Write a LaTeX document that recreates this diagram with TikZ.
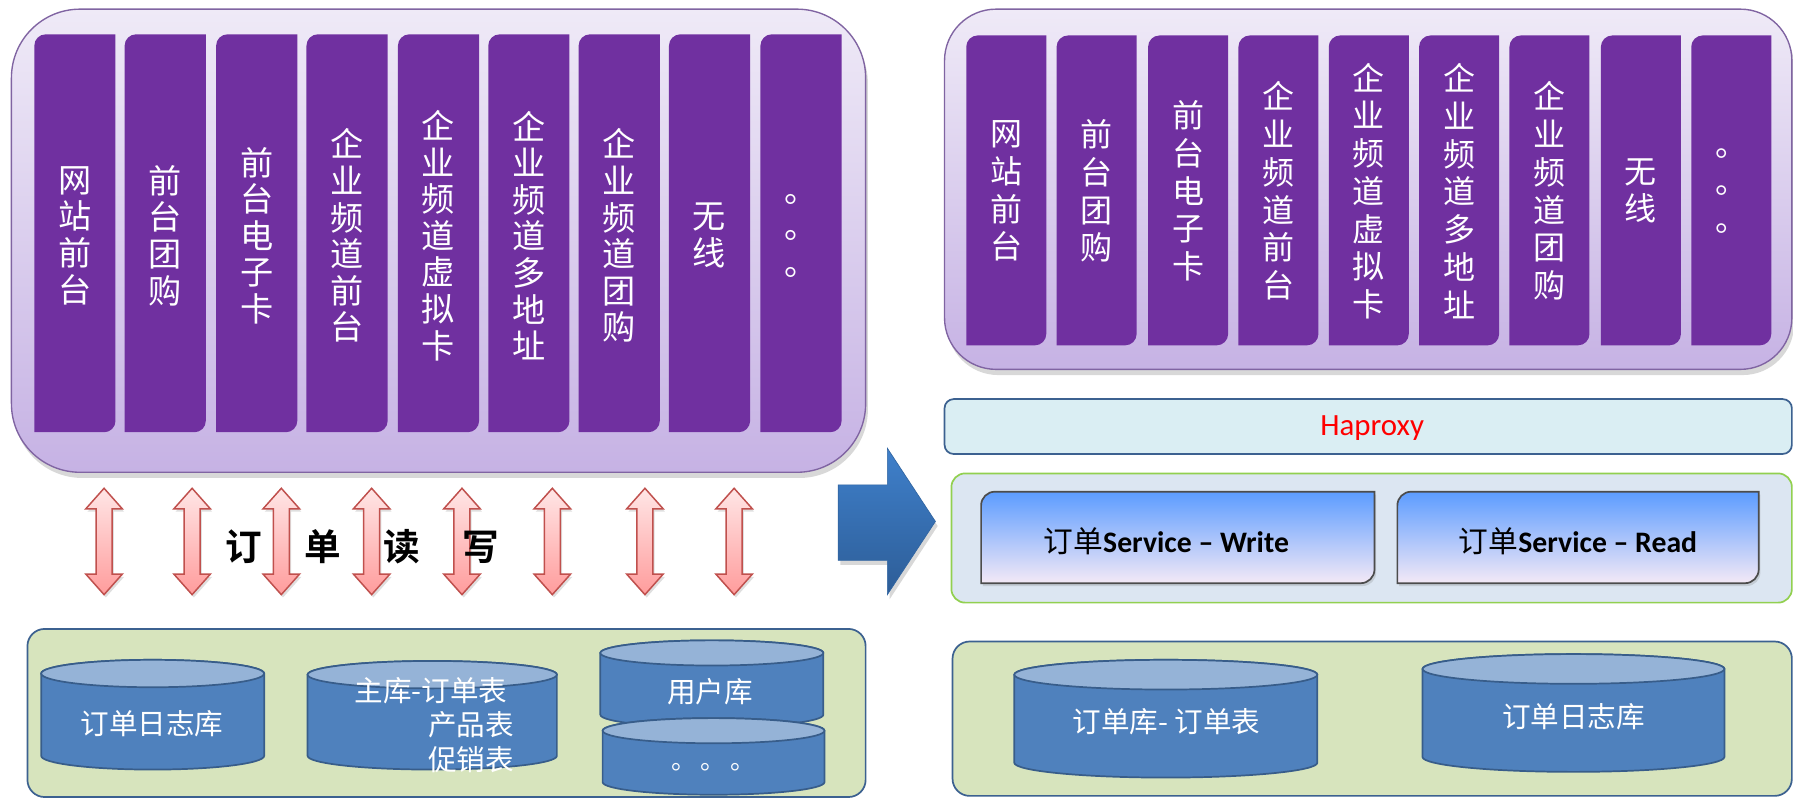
\documentclass[tikz,border=0pt]{standalone}
\usepackage{fontspec}
\setmainfont{Carlito}
\newfontfamily\cjk{Noto Sans CJK SC}
\newfontfamily\cjkbold{Noto Sans CJK SC Bold}
\usetikzlibrary{shadows}
\definecolor{colpurple}{HTML}{7030A0}
\definecolor{panelborder}{HTML}{8064A2}
\definecolor{paneltop}{HTML}{EFEAF7}
\definecolor{panelbot}{HTML}{C6B2E4}
\definecolor{arrtop}{HTML}{FFE6E6}
\definecolor{arrbot}{HTML}{FF9C9C}
\definecolor{arrborder}{HTML}{C0504D}
\definecolor{bigtop}{HTML}{3F80CB}
\definecolor{bigbot}{HTML}{2D5D97}
\definecolor{hafill}{HTML}{DAEEF3}
\definecolor{boxborder}{HTML}{3C6190}
\definecolor{svcbg}{HTML}{DCE6F2}
\definecolor{greenline}{HTML}{92D050}
\definecolor{svctop}{HTML}{5C9CFF}
\definecolor{svcmid}{HTML}{90C3FF}
\definecolor{svcbot}{HTML}{F4E9F6}
\definecolor{dbfill}{HTML}{D7E4BD}
\definecolor{cylbodyc}{HTML}{4F81BD}
\definecolor{cyltopc}{HTML}{95B3D7}
\definecolor{cylline}{HTML}{385D8A}
\tikzset{
  panelbox/.style={top color=paneltop, bottom color=panelbot, draw=panelborder, line width=1.2pt,
    drop shadow={shadow xshift=2pt, shadow yshift=-5pt, opacity=0.3}},
  colbox/.style={fill=colpurple},
  coltext/.style={text=white, align=center, inner sep=0pt, font=\cjk\fontsize{29}{32}\selectfont},
  coltextr/.style={text=white, align=center, inner sep=0pt, font=\cjk\fontsize{28}{33}\selectfont},
  rarrow/.style={top color=arrtop, bottom color=arrbot, draw=arrborder, line width=1.3pt, line join=miter,
    drop shadow={shadow xshift=1.5pt, shadow yshift=-2.5pt, opacity=0.25}},
  bigarrow/.style={top color=bigtop, bottom color=bigbot, draw=bigtop!80!black, line width=0.6pt,
    drop shadow={shadow xshift=2pt, shadow yshift=-4pt, opacity=0.3}},
  svcbox/.style={top color=svctop, middle color=svcmid, bottom color=svcbot, draw=black!70, line width=1.5pt,
    drop shadow={shadow xshift=1.5pt, shadow yshift=-2.5pt, opacity=0.25}},
  cylbody/.style={fill=cylbodyc, draw=cylline, line width=1.5pt},
  cyltop/.style={fill=cyltopc, draw=cylline, line width=1.5pt},
  dbtext/.style={text=white, inner sep=0pt, font=\cjk\fontsize{25}{30}\selectfont},
  svctext/.style={text=black, inner sep=0pt, font=\fontsize{26}{30}\selectfont},
}
% diagonal rounded box: style, x1, y1, x2, y2, r  (y measured downwards)
\newcommand\dbox[6]{\path[#1] (#4,-#3) -- (#4,-#5+#6) arc[start angle=0,end angle=-90,radius=#6pt] -- (#2,-#5) -- (#2,-#3-#6) arc[start angle=180,end angle=90,radius=#6pt] -- cycle;}
% cylinder: x1, x2, top-centre y, bottom-centre y, ry
\newcommand\cyl[5]{%
  \pgfmathsetmacro\crx{(#2-#1)/2}%
  \path[cylbody] (#1,-#3) -- (#1,-#4) arc[start angle=180,end angle=360,x radius=\crx pt,y radius=#5pt] -- (#2,-#3) arc[start angle=0,end angle=180,x radius=\crx pt,y radius=#5pt] -- cycle;
  \path[cyltop] ({(#1+#2)/2},-#3) ellipse[x radius=\crx pt,y radius=#5pt];
}
% vertical double arrow centred at x
\newcommand\dar[1]{\path[rarrow] (#1,-427) -- (#1+16,-445) -- (#1+7,-445) -- (#1+7,-502) -- (#1+16,-502) -- (#1,-520) -- (#1-16,-502) -- (#1-7,-502) -- (#1-7,-445) -- (#1-16,-445) -- cycle;}
\begin{document}
\begin{tikzpicture}[x=1pt,y=1pt]
\useasboundingbox (0,0) rectangle (1568,-699);
\fill[white] (0,0) rectangle (1568,-699);

% ===== left top panel =====
\path[panelbox, rounded corners=60pt] (10,-8) rectangle (757,-413);
\foreach \x/\t [count=\i] in {30/{网\\站\\前\\台},109/{前\\台\\团\\购},189/{前\\台\\电\\子\\卡},268/{企\\业\\频\\道\\前\\台},348/{企\\业\\频\\道\\虚\\拟\\卡},427/{企\\业\\频\\道\\多\\地\\址},506/{企\\业\\频\\道\\团\\购},585/{无\\线},665/{。\\。\\。}}{
  \dbox{colbox}{\x}{30}{\x+71}{378}{10}
  \node[coltext] (lc\i) at (\x+35.5,-206) {\t};
}

% ===== double arrows =====
\foreach \cx in {91,168,246,325,404,483,564,642}{\dar{\cx}}
\node[inner sep=0pt, font=\cjkbold\fontsize{32}{32}\selectfont] (rw) at (317,-478) {订\hspace{37pt}单\hspace{37pt}读\hspace{37pt}写};

% ===== left database panel =====
\path[fill=dbfill, draw=boxborder, line width=1.5pt, rounded corners=15pt] (24,-550) rectangle (757,-697);
\cyl{36}{231}{589}{661}{12}
\node[dbtext] (ldb1) at (133,-633) {订单日志库};
\cyl{269}{487}{590}{661}{12}
\node[dbtext] (ldb2a) at (377,-604) {主库-订单表};
\node[dbtext] (ldb2b) at (412,-634) {产品表};
\node[dbtext] (ldb2c) at (412,-664) {促销表};
\cyl{525}{720}{571}{625}{11}
\node[dbtext] (ldb3) at (621,-605) {用户库};
\cyl{527}{721}{639}{684}{11}
\node[dbtext, font=\cjk\fontsize{22}{22}\selectfont] (ldb4) at (624,-671) {。\hspace{4pt}。\hspace{4pt}。};

% ===== big arrow =====
\path[bigarrow] (733,-424) -- (776,-424) -- (776,-392) -- (818,-456) -- (776,-520) -- (776,-490) -- (733,-490) -- cycle;

% ===== right top panel =====
\path[panelbox, rounded corners=45pt] (826,-8) rectangle (1567,-323);
\foreach \x/\t [count=\i] in {845/{网\\站\\前\\台},924/{前\\台\\团\\购},1004/{前\\台\\电\\子\\卡},1083/{企\\业\\频\\道\\前\\台},1162/{企\\业\\频\\道\\虚\\拟\\卡},1241/{企\\业\\频\\道\\多\\地\\址},1320/{企\\业\\频\\道\\团\\购},1400/{无\\线},1479/{。\\。\\。}}{
  \dbox{colbox}{\x}{31}{\x+70}{302}{10}
  \node[coltextr] (rc\i) at (\x+35,-167) {\t};
}

% ===== Haproxy =====
\path[fill=hafill, draw=boxborder, line width=1.5pt, rounded corners=8pt] (826,-349) rectangle (1567,-397);
\node[text=red, inner sep=0pt, font=\fontsize{27}{30}\selectfont] (ha) at (1200,-374) {Haproxy};

% ===== services =====
\path[fill=svcbg, draw=greenline, line width=1.5pt, rounded corners=12pt] (832,-414) rectangle (1567,-527);
\dbox{svcbox}{858}{430}{1202}{510}{12}
\node[svctext] (sw) at (1020,-473) {{\cjk 订单}\textbf{Service – Write}};
\dbox{svcbox}{1222}{430}{1538}{510}{12}
\node[svctext] (sr) at (1380,-473) {{\cjk 订单}\textbf{Service – Read}};

% ===== right database panel =====
\path[fill=dbfill, draw=boxborder, line width=1.5pt, rounded corners=15pt] (833,-561) rectangle (1567,-696);
\cyl{887}{1152}{590}{667}{13}
\node[dbtext] (rdb1) at (1020,-631) {订单库- 订单表};
\cyl{1244}{1508}{585}{662}{13}
\node[dbtext] (rdb2) at (1376,-627) {订单日志库};
\end{tikzpicture}
\end{document}
